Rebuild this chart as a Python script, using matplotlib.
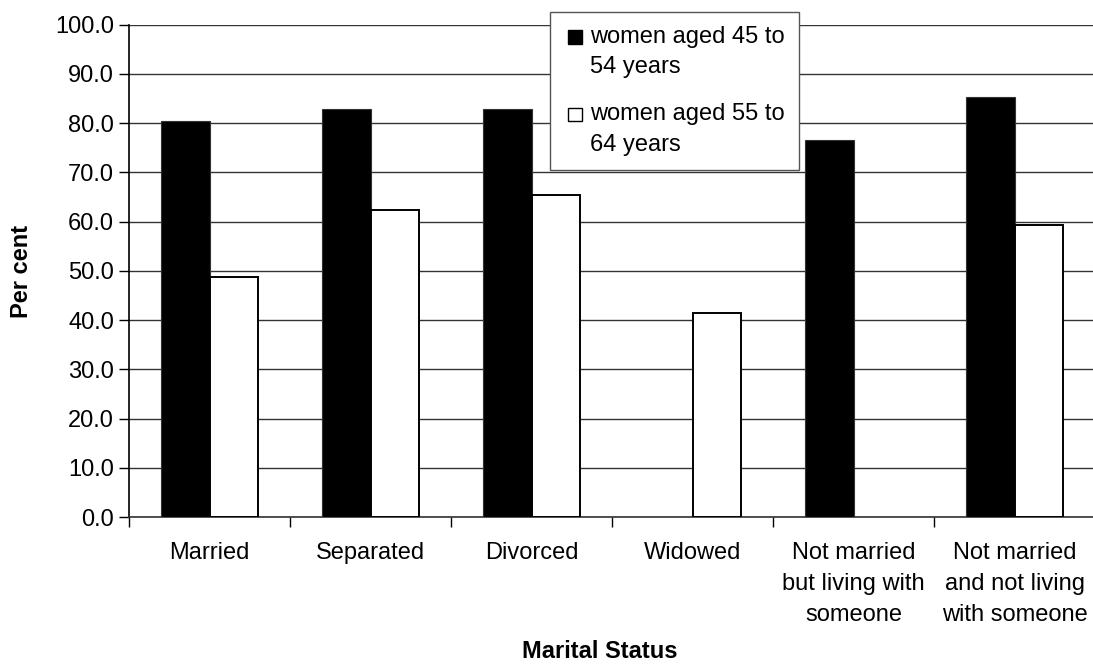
import numpy as np
import matplotlib
matplotlib.use("Agg")
import matplotlib.pyplot as plt
from matplotlib.patches import Rectangle

categories = ["Married", "Separated", "Divorced", "Widowed",
              "Not married\nbut living with\nsomeone",
              "Not married\nand not living\nwith someone"]
women_45_54 = [80.5, 82.8, 82.8, np.nan, 76.6, 85.4]
women_55_64 = [48.7, 62.4, 65.5, 41.4, np.nan, 59.4]
series_labels = [["women aged 45 to", "54 years"], ["women aged 55 to", "64 years"]]
yticks = np.arange(0, 101, 10)

plt.rcParams["font.family"] = ["Liberation Sans", "DejaVu Sans"]
fs = 17
W, H = 1093, 668

fig = plt.figure(figsize=(W / 100, H / 100), dpi=100)
ax_h = 517 - 24.7
ax = fig.add_axes([129.3 / W, 151 / H, (1095 - 129.3) / W, ax_h / H])

x = np.arange(len(categories))
w = 0.3
ax.bar(x - w / 2, women_45_54, width=w, color="black", edgecolor="#333333", linewidth=0.8, zorder=3)
ax.bar(x + w / 2, women_55_64, width=w, color="white", edgecolor="black", linewidth=1.4, zorder=3)

ax.set_xlim(-0.5, len(categories) - 0.5)
ax.set_ylim(0, 100)

# horizontal gridlines
ax.set_yticks(yticks)
ax.set_yticklabels([f"{v:.1f}" for v in yticks], fontsize=fs)
ax.yaxis.grid(True, color="#333333", linewidth=1.0, zorder=0)
ax.set_axisbelow(True)

# tick marks between groups, category names centred under each group
ax.set_xticks(np.arange(-0.5, len(categories) + 0.5, 1.0))
ax.set_xticklabels([])
ax.tick_params(axis="x", length=7, width=1, direction="out")
ax.tick_params(axis="y", length=7, width=1, direction="out", pad=4)
for xi, name in zip(x, categories):
    ax.text(xi, -(542 - 517) / ax_h, name, transform=ax.get_xaxis_transform(),
            ha="center", va="top", fontsize=fs, linespacing=1.52, multialignment="center")

for side in ["top", "right"]:
    ax.spines[side].set_visible(False)
ax.spines["left"].set_linewidth(1.2)
ax.spines["bottom"].set_linewidth(1.2)
ax.spines["bottom"].set_color("#333333")

fig.text(22 / W, 1 - 271 / H, "Per cent", rotation=90, fontsize=fs, fontweight="bold",
         ha="center", va="center")
fig.text(600 / W, 1 - 652 / H, "Marital Status", fontsize=fs, fontweight="bold",
         ha="center", va="center")

# legend box (Excel style: marker aligned with first text line)
def px(xp, yp):
    return xp / W, 1 - yp / H

fig.patches.append(Rectangle(px(550, 170), 249 / W, 158.3 / H, transform=fig.transFigure,
                             facecolor="white", edgecolor="#555555", linewidth=1.0, zorder=10))
markers = [("black", 30, [43.3, 73.3]), ("white", 107.5, [120, 150.7])]
for (fc, top, baselines), lines in zip(markers, series_labels):
    fig.patches.append(Rectangle(px(568.3, top + 13.5), 14 / W, 13.5 / H, transform=fig.transFigure,
                                 facecolor=fc, edgecolor="black", linewidth=1.0, zorder=11))
    for yb, txt in zip(baselines, lines):
        fig.text(*px(590, yb), txt, fontsize=fs, ha="left", va="baseline", zorder=12)

fig.savefig("out.png", dpi=100)
